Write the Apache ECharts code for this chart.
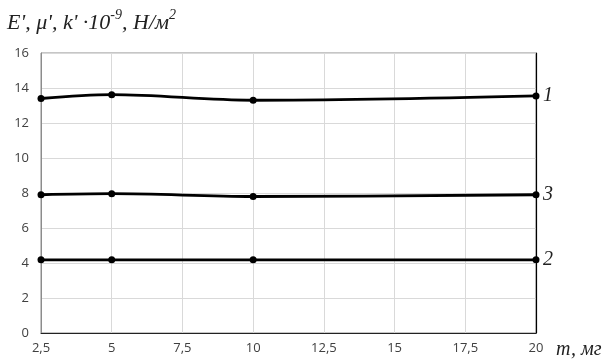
<!DOCTYPE html>
<html><head><meta charset="utf-8">
<script src="https://cdn.jsdelivr.net/npm/echarts@6/dist/echarts.min.js"></script>
<style>html,body{margin:0;padding:0;background:#fff}#c{width:610px;height:360px}</style>
</head><body><div id="c"></div>
<script>
const mass = [2.5, 5, 10, 20];
const series1 = [13.4, 13.62, 13.3, 13.55];
const series3 = [7.9, 7.96, 7.8, 7.9];
const series2 = [4.18, 4.18, 4.18, 4.18];
const seriesNames = ['1', '3', '2'];
const yTitle = "E', μ', k' ·10";
const xTitle = 'т, мг';

const serif = '"Liberation Serif", "DejaVu Serif", serif';
const sans = '"Open Sans", "Noto Sans", sans-serif';

function mk(name, vals) {
  return {
    name: name, type: 'line', smooth: 0.35,
    data: mass.map((m, i) => [m, vals[i]]),
    symbol: 'circle', symbolSize: 7,
    lineStyle: {color: '#000', width: 2.8},
    itemStyle: {color: '#000'},
    endLabel: {show: true, formatter: name, color: '#222', fontFamily: serif, fontStyle: 'italic', fontSize: 20, distance: 7},
    z: 5
  };
}
const chart = echarts.init(document.getElementById('c'));
chart.setOption({
  animation: false,
  backgroundColor: '#fff',
  grid: {left: 41, top: 53, right: 74, bottom: 27, show: true, borderColor: '#8c8c8c', borderWidth: 1},
  graphic: [{
    type: 'text', left: 7, top: 8,
    style: {
      text: '{a|' + yTitle + '}{s|-9}{a|, Н/м}{s|2}',
      rich: {
        a: {fontFamily: serif, fontStyle: 'italic', fontSize: 22, fill: '#222', verticalAlign: 'bottom', lineHeight: 26},
        s: {fontFamily: serif, fontStyle: 'italic', fontSize: 14, fill: '#222', verticalAlign: 'top', lineHeight: 26, padding: [0,0,9,0]}
      }
    }
  }],
  xAxis: {
    type: 'value', min: 2.5, max: 20, interval: 2.5,
    name: xTitle, nameLocation: 'end', nameGap: 20,
    nameTextStyle: {fontFamily: serif, fontStyle: 'italic', fontSize: 20, color: '#222', verticalAlign: 'top', padding: [7, 0, 0, 0]},
    axisLine: {lineStyle: {color: '#222', width: 1}},
    axisTick: {show: false},
    axisLabel: {color: '#404040', fontFamily: sans, fontSize: 13, margin: 9, formatter: v => String(v).replace('.', ',')},
    splitLine: {show: true, lineStyle: {color: '#d9d9d9', width: 1}}
  },
  yAxis: [{
    type: 'value', min: 0, max: 16, interval: 2,
    axisLine: {show: true, lineStyle: {color: '#8c8c8c', width: 1}},
    axisTick: {show: false},
    axisLabel: {color: '#404040', fontFamily: sans, fontSize: 13, margin: 12},
    splitLine: {show: true, lineStyle: {color: '#d9d9d9', width: 1}}
  }, {
    type: 'value', min: 0, max: 16, interval: 2, position: 'right',
    axisLine: {show: true, lineStyle: {color: '#000', width: 1.2}},
    axisTick: {show: false}, axisLabel: {show: false}, splitLine: {show: false}
  }],
  series: [mk(seriesNames[0], series1), mk(seriesNames[1], series3), mk(seriesNames[2], series2)]
});
</script></body></html>
